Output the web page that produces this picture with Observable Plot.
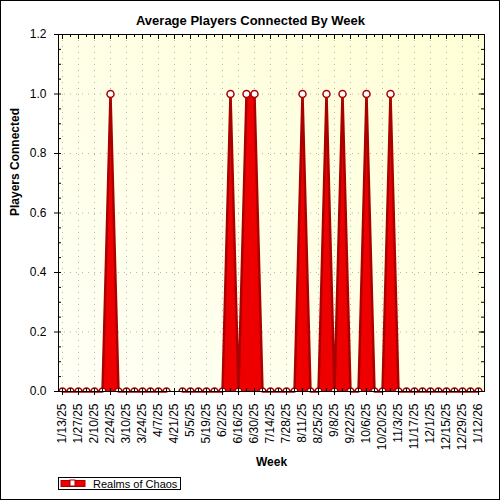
<!DOCTYPE html>
<html><head><meta charset="utf-8">
<script src="https://cdn.jsdelivr.net/npm/d3@7"></script>
<script src="https://cdn.jsdelivr.net/npm/@observablehq/plot@0.6"></script>
<style>html,body{margin:0;padding:0;background:#fff}#chart{width:500px;height:500px}</style>
</head><body><div id="chart"></div>
<script>
const weekLabels = ["1/13/25","1/20/25","1/27/25","2/3/25","2/10/25","2/17/25","2/24/25","3/3/25","3/10/25","3/17/25","3/24/25","3/31/25","4/7/25","4/14/25","4/21/25","4/28/25","5/5/25","5/12/25","5/19/25","5/26/25","6/2/25","6/9/25","6/16/25","6/23/25","6/30/25","7/7/25","7/14/25","7/21/25","7/28/25","8/4/25","8/11/25","8/18/25","8/25/25","9/1/25","9/8/25","9/15/25","9/22/25","9/29/25","10/6/25","10/13/25","10/20/25","10/27/25","11/3/25","11/10/25","11/17/25","11/24/25","12/1/25","12/8/25","12/15/25","12/22/25","12/29/25","1/5/26","1/12/26"];
const players = [0,0,0,0,0,0,1,0,0,0,0,0,0,0,null,0,0,0,0,0,0,1,0,1,1,0,0,0,0,0,1,0,0,1,0,1,0,0,1,0,0,1,0,0,0,0,0,0,0,0,0,0,0];
const seriesName = "Realms of Chaos";
const chartTitle = "Average Players Connected By Week";
const xTitle = "Week";
const yTitle = "Players Connected";
const yTicks = [0, 0.2, 0.4, 0.6, 0.8, 1.0, 1.2];
const yGrid = [0.2, 0.4, 0.6, 0.8, 1.0];
const yMinor = d3.range(0, 25).map(k => k * 0.05);

const data = weekLabels.map((w, i) => ({i, week: w, value: players[i]}));
const labeledIdx = d3.range(0, weekLabels.length, 2);
const allIdx = d3.range(weekLabels.length);
const font = "'Liberation Sans', Arial, sans-serif";
const W = 426, H = 357;

const svg = Plot.plot({
  width: 500, height: 500,
  marginLeft: 58, marginRight: 16, marginTop: 34, marginBottom: 109,
  style: {fontFamily: font, fontSize: "12px", color: "#000", background: "#fff", overflow: "visible"},
  x: {domain: [-0.5, 52.75]},
  y: {domain: [0, 1.2]},
  marks: [
    Plot.frame({fill: "url(#bgGrad)"}),
    Plot.gridY(yGrid, {stroke: "#b4b4b4", strokeOpacity: 1, strokeDasharray: "1,5"}),
    Plot.gridX(labeledIdx, {stroke: "#b4b4b4", strokeOpacity: 1, strokeDasharray: "1,5"}),
    Plot.areaY(data, {x: "i", y: "value", fill: "#ee0000", curve: "linear"}),
    Plot.lineY(data, {x: "i", y: "value", stroke: "#aa0000", strokeWidth: 2.5, curve: "linear"}),
    Plot.dot(data.filter(d => d.value != null), {x: "i", y: "value", r: 3.5, fill: "#fff", stroke: "#aa0000", strokeWidth: 1.5, clip: true}),
    Plot.frame({stroke: "#000"}),
    Plot.tickY(yMinor, {y: d => d, insetRight: W - 3, stroke: "#000"}),
    Plot.tickY(yMinor, {y: d => d, insetLeft: W - 3, stroke: "#000"}),
    Plot.tickY(yTicks, {y: d => d, insetLeft: W - 5, stroke: "#000"}),
    Plot.tickX(allIdx, {x: d => d, insetBottom: H - 3, stroke: "#000"}),
    Plot.tickX(labeledIdx, {x: d => d, insetBottom: H - 5, stroke: "#000"}),
    Plot.tickX(allIdx, {x: d => d, insetTop: H - 3, stroke: "#000"}),
    Plot.axisY(yTicks, {anchor: "left", tickFormat: d3.format(".1f"), tickSize: 4, tickPadding: 8, label: null, fontSize: 12}),
    Plot.axisX(labeledIdx, {anchor: "bottom", tickFormat: i => weekLabels[i], tickRotate: -90, tickSize: 4, tickPadding: 8, label: null, fontSize: 12}),
    Plot.text([chartTitle], {frameAnchor: "top", dx: -21, dy: -19, fontWeight: "bold", fontSize: 13}),
    Plot.text([yTitle], {frameAnchor: "left", dx: -43, dy: 3, rotate: -90, fontWeight: "bold", fontSize: 12}),
    Plot.text([xTitle], {frameAnchor: "bottom", dy: 74, fontWeight: "bold", fontSize: 12})
  ]
});

const s = d3.select(svg);
const defs = s.insert("defs", ":first-child");
const g = defs.append("linearGradient").attr("id", "bgGrad").attr("x1", 0).attr("y1", 1).attr("x2", 1).attr("y2", 0);
g.append("stop").attr("offset", "0%").attr("stop-color", "#fffff6");
g.append("stop").attr("offset", "100%").attr("stop-color", "#ffffd6");

const lg = s.append("g").attr("class", "legend");
lg.append("rect").attr("x", 58.5).attr("y", 477.5).attr("width", 122).attr("height", 12).attr("fill", "#fff").attr("stroke", "#000");
lg.append("rect").attr("x", 61).attr("y", 480.5).attr("width", 24).attr("height", 6).attr("fill", "#ee0000").attr("stroke", "#aa0000").attr("stroke-width", 1);
lg.append("rect").attr("x", 70).attr("y", 480).attr("width", 5).attr("height", 6).attr("fill", "#fff").attr("stroke", "#aa0000").attr("stroke-width", 1);
lg.append("text").attr("x", 93).attr("y", 487.5).attr("text-anchor", "start").attr("font-size", 11).attr("font-family", font).attr("fill", "#000").text(seriesName);
s.append("rect").attr("x", 0.5).attr("y", 0.5).attr("width", 499).attr("height", 499).attr("fill", "none").attr("stroke", "#000");

document.getElementById("chart").appendChild(svg);
</script>
</body></html>
